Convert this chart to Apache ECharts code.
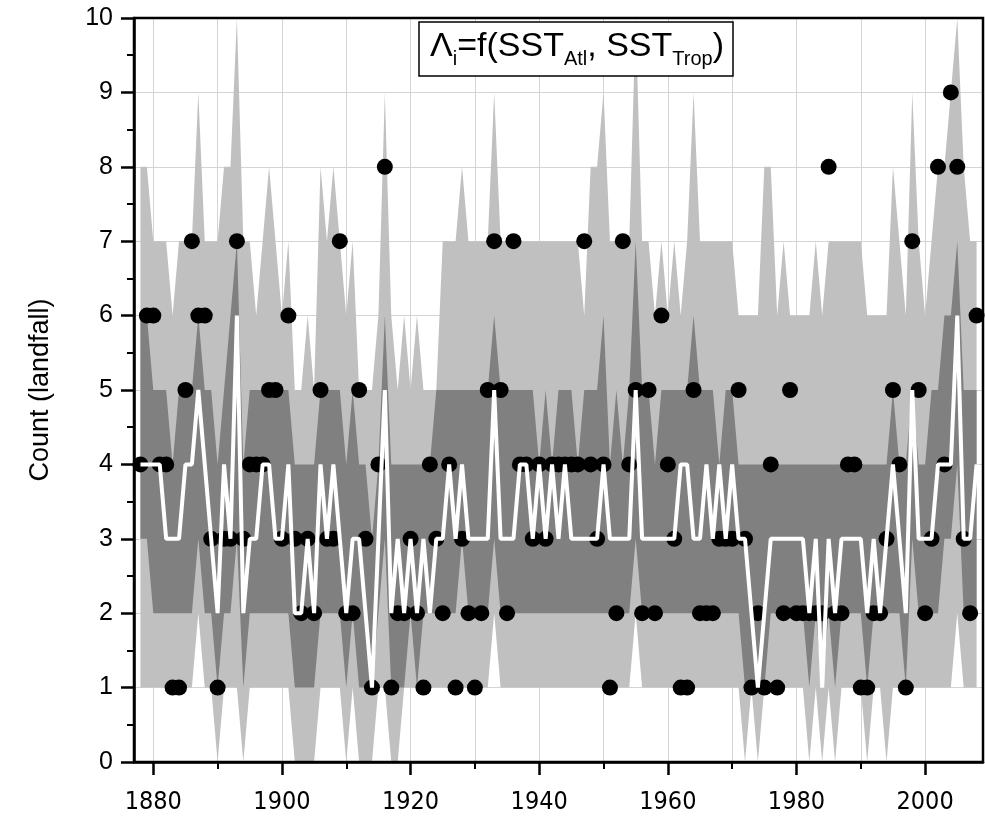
<!DOCTYPE html>
<html>
<head>
<meta charset="utf-8">
<script src="https://cdn.jsdelivr.net/npm/echarts@6/dist/echarts.min.js"></script>
<style>
  html, body { margin: 0; padding: 0; background: #fff; }
  #chart { width: 985px; height: 819px; }
</style>
</head>
<body>
<div id="chart"></div>
<script>
// Annual landfall counts, 1878-2008, with predictive quantile bands
const firstYear = 1878;

// observed counts (black dots)
const observed = [
  4,6,6,4,4,1,1,5,7,6,
  6,3,1,3,3,7,3,4,4,4,
  5,5,3,6,3,2,3,2,5,3,
  3,7,2,2,5,3,1,4,8,1,
  2,2,3,2,1,4,3,2,4,1,
  3,2,1,2,5,7,5,2,7,4,
  4,3,4,3,4,4,4,4,4,7,
  4,3,4,1,2,7,4,5,2,5,
  2,6,4,3,1,1,5,2,2,2,
  3,3,3,5,3,1,2,1,4,1,
  2,5,2,2,2,2,2,8,2,2,
  4,4,1,1,2,2,3,5,4,1,
  7,5,2,3,8,4,9,8,3,2,
  6
];

// median of the predictive distribution (white line)
const median = [
  4,4,4,4,3,3,3,4,4,5,
  4,3,2,4,3,6,2,3,3,4,
  4,3,3,4,2,2,3,2,4,3,
  4,3,2,3,3,2,1,3,5,2,
  3,2,3,2,3,2,3,3,4,3,
  4,3,3,3,3,5,3,3,3,4,
  4,3,4,3,4,3,4,3,3,3,
  3,3,4,3,3,3,3,5,3,3,
  3,3,3,3,4,4,3,3,4,3,
  4,3,4,3,3,2,1,2,3,3,
  3,3,3,3,2,3,1,3,2,3,
  3,3,3,2,3,2,3,4,3,2,
  5,3,3,3,4,4,4,6,3,3,
  4
];

// inner band (dark grey): lower and upper quantiles
const innerLow = [
  3,3,2,2,2,2,2,2,2,3,
  2,2,1,2,2,3,1,2,2,2,
  2,2,2,2,1,1,1,1,2,2,
  2,2,1,2,1,1,1,2,3,1,
  1,1,2,1,2,2,2,2,2,2,
  3,2,2,2,2,3,2,2,2,2,
  2,2,2,2,2,2,2,2,2,2,
  2,2,2,2,2,2,2,3,2,2,
  2,2,2,2,2,2,2,2,2,2,
  2,2,2,2,1,1,1,1,2,2,
  2,2,2,2,1,2,1,2,1,2,
  2,2,2,1,2,2,2,2,2,1,
  3,2,2,2,2,3,3,4,2,2,
  2
];
const innerHigh = [
  6,6,5,5,5,4,5,5,5,6,
  5,5,4,5,6,7,4,5,5,5,
  5,5,5,5,4,4,4,4,5,5,
  5,5,4,5,4,4,3,4,6,4,
  4,4,4,4,4,4,5,5,5,5,
  5,5,5,5,5,6,5,5,5,5,
  5,5,4,5,4,5,5,5,4,5,
  5,5,6,4,5,4,5,7,5,5,
  4,5,5,5,5,5,6,5,5,5,
  4,5,5,4,4,4,4,4,4,4,
  4,4,4,4,4,4,4,4,4,4,
  4,4,4,4,4,4,4,5,4,4,
  5,4,4,5,5,6,6,7,5,5,
  5
];

// outer band (light grey): lower and upper quantiles
const outerLow = [
  1,1,1,1,1,1,1,1,1,2,
  1,1,0,1,1,1,0,1,1,1,
  1,1,1,1,0,0,0,0,1,1,
  1,1,0,1,0,0,0,1,1,0,
  0,1,1,1,1,1,1,1,1,1,
  1,1,1,1,1,2,1,1,1,1,
  1,1,1,1,1,1,1,1,1,1,
  1,1,1,1,1,1,1,2,1,1,
  1,1,1,1,1,1,1,1,1,1,
  1,1,1,1,0,1,0,1,1,1,
  1,1,1,1,0,1,0,1,0,1,
  1,1,1,0,1,1,0,1,1,1,
  1,1,1,1,1,1,1,2,1,1,
  1
];
const outerHigh = [
  8,8,7,7,7,6,7,7,7,9,
  7,7,7,8,8,10,7,7,6,7,
  8,7,6,7,5,5,6,5,8,7,
  8,7,6,7,5,5,5,6,9,6,
  5,6,5,6,5,5,5,7,7,7,
  8,7,7,7,7,9,7,7,7,7,
  7,7,7,7,7,7,7,7,7,6,
  8,8,9,7,7,7,7,10,7,7,
  6,7,6,7,6,7,9,7,7,7,
  7,7,7,6,6,6,6,8,8,6,
  7,6,6,6,6,7,6,7,7,7,
  7,7,7,6,6,6,6,8,7,6,
  9,7,6,7,8,8,9,10,8,7,
  7
];

// axis ticks
const majorYears = [1880, 1900, 1920, 1940, 1960, 1980, 2000];
const minorYears = [1890, 1910, 1930, 1950, 1970, 1990];

const years = observed.map((_, i) => firstYear + i);
const pairs = arr => arr.map((v, i) => [years[i], v]);

// A filled band between two yearly quantile series, drawn as one polygon
// through the cartesian coordinate system.
function band(low, high, color) {
  return {
    type: 'custom',
    silent: true,
    clip: true,
    data: years.map((y, i) => [y, low[i], high[i]]),
    encode: { x: 0, y: [1, 2] },
    renderItem: function (params, api) {
      if (params.dataIndex !== 0) return null;
      const top = high.map((v, i) => api.coord([years[i], v]));
      const bottom = low.map((v, i) => api.coord([years[i], v])).reverse();
      return {
        type: 'polygon',
        shape: { points: top.concat(bottom) },
        style: { fill: color, stroke: null }
      };
    }
  };
}

const chart = echarts.init(document.getElementById('chart'));

const gridLineColor = '#d4d4d4';
const sansFont = "'Liberation Sans', Arial, sans-serif";

chart.setOption({
  animation: false,
  backgroundColor: '#fff',
  grid: { left: 134, right: 2, top: 18, bottom: 57 },
  xAxis: [
    {
      type: 'value', min: 1877, max: 2009,
      axisLine: { show: true, onZero: false, lineStyle: { color: '#000', width: 2.5 } },
      axisTick: { show: true, customValues: majorYears, length: 13, lineStyle: { color: '#000', width: 2.5 } },
      axisLabel: {
        customValues: majorYears, color: '#000', fontSize: 25, margin: 28,
        formatter: v => String(v),
        fontFamily: "'Liberation Sans Narrow', 'DejaVu Sans Condensed', Roboto, sans-serif"
      },
      splitLine: { show: true, lineStyle: { color: gridLineColor, width: 1 } }
    },
    {
      type: 'value', min: 1877, max: 2009, position: 'bottom',
      axisLine: { show: false },
      axisTick: { show: true, customValues: minorYears, length: 7, lineStyle: { color: '#000', width: 2 } },
      axisLabel: { show: false },
      splitLine: { show: true, lineStyle: { color: gridLineColor, width: 1 } }
    }
  ],
  yAxis: {
    type: 'value', min: 0, max: 10, interval: 1,
    name: 'Count (landfall)', nameLocation: 'middle', nameGap: 80,
    nameTextStyle: { fontSize: 27, color: '#000', fontFamily: sansFont },
    axisLine: { show: true, lineStyle: { color: '#000', width: 2.5 } },
    axisTick: { length: 13, lineStyle: { color: '#000', width: 2.5 } },
    minorTick: { show: true, splitNumber: 2, length: 7, lineStyle: { color: '#000', width: 2 } },
    axisLabel: { fontSize: 25, color: '#000', margin: 21, fontFamily: sansFont },
    splitLine: { show: true, lineStyle: { color: gridLineColor, width: 1 } }
  },
  series: [
    band(outerLow, outerHigh, '#c0c0c0'),
    band(innerLow, innerHigh, '#808080'),
    {
      type: 'line', data: pairs(median), symbol: 'none', silent: true,
      lineStyle: { color: '#fff', width: 4 }
    },
    {
      type: 'scatter', data: pairs(observed), symbol: 'circle', symbolSize: 16, silent: true,
      itemStyle: { color: '#000', opacity: 1 }
    }
  ],
  graphic: [
    {
      type: 'rect', z: 40, silent: true,
      shape: { x: 134, y: 18, width: 985 - 134 - 2, height: 819 - 18 - 57 },
      style: { fill: 'none', stroke: '#000', lineWidth: 2.5 }
    },
    {
      type: 'rect', z: 50, silent: true,
      shape: { x: 419, y: 22, width: 314, height: 54 },
      style: { fill: '#fff', stroke: '#000', lineWidth: 1.5 }
    },
    {
      type: 'text', z: 51, silent: true, x: 577, y: 47,
      style: {
        text: '{m|Λ}{s|i}{m|=f(SST}{s|Atl}{m|, SST}{s|Trop}{m|)}',
        align: 'center', verticalAlign: 'middle',
        rich: {
          m: { fontSize: 34, lineHeight: 44, fontFamily: sansFont, fill: '#000' },
          s: { fontSize: 20, lineHeight: 16, verticalAlign: 'bottom', fontFamily: sansFont, fill: '#000' }
        }
      }
    }
  ]
});
</script>
</body>
</html>
